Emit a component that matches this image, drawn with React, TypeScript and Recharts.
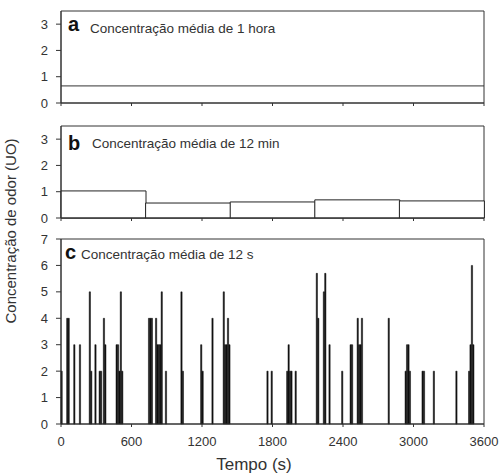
import React from "react";
import { ComposedChart, Bar, Line, XAxis, YAxis, ReferenceArea } from "recharts";

const xTicks = [0, 600, 1200, 1800, 2400, 3000, 3600];
const yTicksTop = [0, 1, 2, 3];
const yTicksC = [0, 1, 2, 3, 4, 5, 6, 7];

// a: 1 hour mean
const hourMean = 0.65;

// b: 12 min means (start of interval, s)
const minStarts = [0, 720, 1440, 2160, 2880];
const minMeans = [1.03, 0.57, 0.61, 0.69, 0.65];

// c: 12 s means (start of interval, s) - only non-zero intervals
const secStarts = [
  0, 48, 60, 108, 156, 240, 252, 288, 324, 336, 360, 372,
  468, 480, 492, 504, 516, 744, 756, 768, 804, 816, 828, 840, 852, 888,
  1020, 1032, 1188, 1200, 1284, 1380, 1392, 1404, 1416, 1428,
  1752, 1788, 1920, 1932, 1944, 1956, 1992,
  2172, 2184, 2232, 2244, 2280, 2388, 2460, 2472, 2520, 2532, 2544, 2556,
  2784, 2928, 2940, 2952, 2964, 3072, 3084, 3168, 3360, 3468, 3480, 3492, 3504,
];
const secMeans = [
  2, 4, 4, 3, 3, 5, 2, 3, 2, 2, 4, 3,
  3, 3, 2, 5, 2, 4, 4, 4, 4, 3, 3, 3, 5, 2,
  5, 2, 3, 2, 4, 5, 3, 3, 4, 3,
  2, 2, 2, 3, 2, 2, 2,
  5.7, 4, 5, 5.7, 3, 2, 3, 3, 4, 3, 3, 4,
  4, 2, 3, 3, 2, 2, 2, 2, 2, 2, 3, 6, 3,
];

const hourData = [
  { t: 0, v: hourMean },
  { t: 3600, v: hourMean },
];
const minData = minStarts.map((s, i) => ({ t: s + 360, v: minMeans[i] }));
const secData = secStarts.map((s, i) => ({ t: s + 6, v: secMeans[i] }));

const FONT = "'Liberation Sans', Arial, sans-serif";
const AX = "#333";
const tickStyle = { fontSize: 13, fill: "#333", fontFamily: FONT };

function Txt({ x, base, size, bold, children }: any) {
  return (
    <div
      style={{
        position: "absolute",
        left: x,
        top: base - 0.8465 * size,
        fontSize: size,
        lineHeight: `${size}px`,
        fontWeight: bold ? "bold" : "normal",
        fontFamily: FONT,
        color: bold ? "#111" : "#333",
        whiteSpace: "nowrap",
      }}
    >
      {children}
    </div>
  );
}

function Frame({ top }: { top: number }) {
  return (
    <ReferenceArea
      x1={0}
      x2={3600}
      y1={0}
      y2={top}
      fill="none"
      stroke={AX}
      strokeWidth={1}
      fillOpacity={0}
      ifOverflow="visible"
    />
  );
}

export default function App() {
  return (
    <div style={{ position: "absolute", left: 0, top: 0, width: 503, height: 474, background: "#fff", fontFamily: FONT }}>
      <div style={{ position: "absolute", left: 0, top: 0 }}>
        <ComposedChart width={503} height={118} data={hourData} margin={{ top: 11, right: 19, bottom: 10, left: 0 }}>
          <XAxis dataKey="t" type="number" domain={[0, 3600]} ticks={xTicks} interval={0} tickFormatter={() => ""} height={5} tickSize={3} stroke={AX} />
          <YAxis type="number" domain={[0, 3.5]} ticks={yTicksTop} interval={0} width={61} tickSize={5} tickMargin={8} tick={tickStyle} stroke={AX} />
          <Frame top={3.5} />
          <Line dataKey="v" stroke={AX} strokeWidth={1} dot={false} isAnimationActive={false} />
        </ComposedChart>
      </div>
      <div style={{ position: "absolute", left: 0, top: 115 }}>
        <ComposedChart width={503} height={118} data={minData} margin={{ top: 11, right: 19, bottom: 10, left: 0 }} barCategoryGap={0}>
          <XAxis dataKey="t" type="number" domain={[0, 3600]} ticks={xTicks} interval={0} tickFormatter={() => ""} height={5} tickSize={3} stroke={AX} />
          <YAxis type="number" domain={[0, 3.5]} ticks={yTicksTop} interval={0} width={61} tickSize={5} tickMargin={8} tick={tickStyle} stroke={AX} />
          <Frame top={3.5} />
          <Bar dataKey="v" fill="#fff" stroke="#222" strokeWidth={1} isAnimationActive={false} />
        </ComposedChart>
      </div>
      <div style={{ position: "absolute", left: 0, top: 228 }}>
        <ComposedChart width={503} height={226} data={secData} margin={{ top: 11, right: 19, bottom: 0, left: 0 }}>
          <XAxis dataKey="t" type="number" domain={[0, 3600]} ticks={xTicks} interval={0} height={30} tickSize={3} tickMargin={10} tick={tickStyle} stroke={AX} />
          <YAxis type="number" domain={[0, 7]} ticks={yTicksC} interval={0} width={61} tickSize={5} tickMargin={8} tick={tickStyle} stroke={AX} />
          <Frame top={7} />
          <Bar dataKey="v" fill="#111" stroke="#111" strokeWidth={0.5} barSize={2} isAnimationActive={false} />
        </ComposedChart>
      </div>

      <Txt x={68} base={31} size={20} bold>a</Txt>
      <Txt x={90} base={33} size={13.5}>Concentração média de 1 hora</Txt>
      <Txt x={68} base={150} size={20} bold>b</Txt>
      <Txt x={92} base={148} size={13.5}>Concentração média de 12 min</Txt>
      <Txt x={65} base={259} size={20} bold>c</Txt>
      <Txt x={81} base={259} size={13.5}>Concentração média de 12 s</Txt>

      <div
        style={{
          position: "absolute",
          left: 254,
          top: 456,
          transform: "translateX(-50%)",
          fontSize: 17,
          lineHeight: "17px",
          color: "#333",
          whiteSpace: "nowrap",
        }}
      >
        Tempo (s)
      </div>
      <div
        style={{
          position: "absolute",
          left: 10,
          top: 231,
          transform: "translate(-50%, -50%) rotate(-90deg)",
          fontSize: 15,
          lineHeight: "15px",
          color: "#333",
          whiteSpace: "nowrap",
        }}
      >
        Concentração de odor (UO)
      </div>
    </div>
  );
}
